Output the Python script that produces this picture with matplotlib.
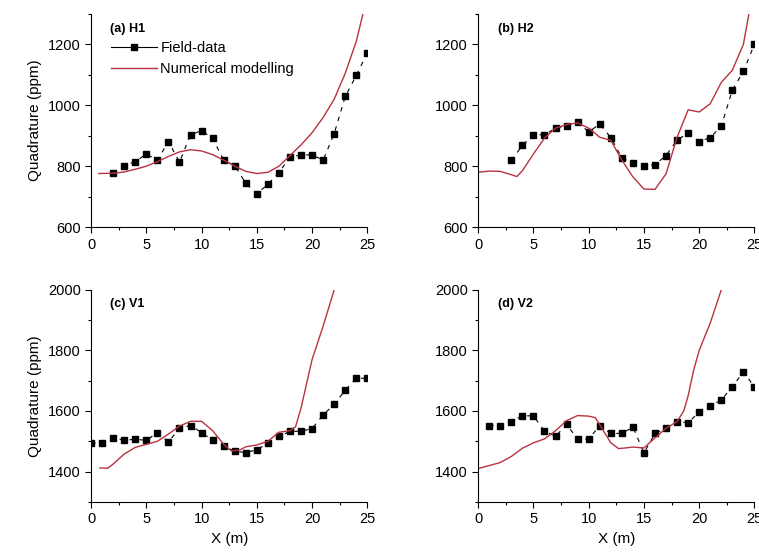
import matplotlib
matplotlib.use('Agg')
import matplotlib.pyplot as plt
from matplotlib.lines import Line2D
from matplotlib.ticker import MultipleLocator

plt.rcParams['font.family'] = ['Liberation Sans', 'DejaVu Sans']

# field data (squares)
xa_field = [2, 3, 4, 5, 6, 7, 8, 9, 10, 11, 12, 13, 14, 15, 16, 17, 18, 19, 20, 21, 22, 23, 24, 25]
ya_field = [779, 802, 815, 840, 820, 881, 813, 903, 917, 891, 820, 802, 744, 709, 741, 779, 830, 837, 837, 820, 907, 1029, 1098, 1173]

xb_field = [3, 4, 5, 6, 7, 8, 9, 10, 11, 12, 13, 14, 15, 16, 17, 18, 19, 20, 21, 22, 23, 24, 25]
yb_field = [819, 868, 903, 903, 925, 933, 944, 913, 938, 894, 827, 810, 802, 805, 835, 886, 908, 881, 894, 931, 1050, 1111, 1200]

xc_field = [0, 1, 2, 3, 4, 5, 6, 7, 8, 9, 10, 11, 12, 13, 14, 15, 16, 17, 18, 19, 20, 21, 22, 23, 24, 25]
yc_field = [1494, 1494, 1512, 1503, 1507, 1503, 1529, 1498, 1543, 1552, 1529, 1503, 1485, 1467, 1463, 1472,
            1494, 1516, 1533, 1533, 1542, 1587, 1622, 1669, 1708, 1708]

xd_field = [1, 2, 3, 4, 5, 6, 7, 8, 9, 10, 11, 12, 13, 14, 15, 16, 17, 18, 19, 20, 21, 22, 23, 24, 25]
yd_field = [1552, 1552, 1565, 1584, 1584, 1534, 1516, 1556, 1507, 1507, 1552, 1526, 1526, 1547, 1462, 1526,
            1543, 1565, 1561, 1597, 1618, 1636, 1680, 1729, 1680]

# numerical modelling (red line)
xa_model = [0.7, 2, 3, 4, 5, 6, 7, 8, 9, 10, 11, 12, 13, 14, 15, 16, 17, 18, 19, 20, 21, 22, 23, 24, 24.6]
ya_model = [776, 777, 781, 790, 800, 815, 832, 847, 854, 850, 838, 820, 800, 783, 776, 780, 800, 835, 870, 910,
            960, 1020, 1105, 1210, 1300]

xb_model = [0, 1, 2, 3, 3.5, 4, 5, 6, 7, 8, 9, 10, 11, 12, 13, 14, 15, 16, 17, 18, 19, 20, 21, 22, 23, 24, 24.5]
yb_model = [780, 784, 783, 772, 766, 785, 840, 892, 925, 937, 942, 925, 895, 885, 820, 765, 725, 724, 775, 895,
            985, 978, 1005, 1075, 1115, 1200, 1300]

xc_model = [0.8, 1.5, 2, 3, 4, 5, 6, 7, 8, 9, 10, 11, 12, 12.7, 13.5, 14, 15, 16, 17, 18, 18.5, 19, 20, 21, 22]
yc_model = [1412, 1411, 1425, 1458, 1480, 1490, 1500, 1524, 1550, 1566, 1566, 1535, 1490, 1468, 1472, 1482,
            1488, 1500, 1530, 1535, 1548, 1610, 1770, 1880, 2000]

xd_model = [0, 1, 2, 3, 4, 5, 6, 7, 8, 9, 10, 10.6, 11, 12, 12.7, 13.3, 14, 15, 16, 17, 18, 18.6, 19, 19.5, 20,
            21, 22]
yd_model = [1410, 1420, 1430, 1450, 1477, 1495, 1508, 1535, 1568, 1585, 1583, 1578, 1555, 1495, 1476, 1478,
            1481, 1478, 1511, 1543, 1565, 1600, 1650, 1735, 1800, 1890, 2000]

panels = [
    ('(a) H1', xa_field, ya_field, xa_model, ya_model, (600, 1300)),
    ('(b) H2', xb_field, yb_field, xb_model, yb_model, (600, 1300)),
    ('(c) V1', xc_field, yc_field, xc_model, yc_model, (1300, 2000)),
    ('(d) V2', xd_field, yd_field, xd_model, yd_model, (1300, 2000)),
]

fig = plt.figure(figsize=(7.59, 5.54), dpi=100)
rects = [
    [0.120, 0.590, 0.364, 0.385],
    [0.630, 0.590, 0.364, 0.385],
    [0.120, 0.094, 0.364, 0.383],
    [0.630, 0.094, 0.364, 0.383],
]
red = '#b8323f'

for i, (title, xf, yf, xm, ym, ylim) in enumerate(panels):
    ax = fig.add_axes(rects[i])
    ax.plot(xf, yf, color='black', linestyle=(0, (4, 5)), linewidth=0.8,
            marker='s', markersize=4.5)
    ax.plot(xm, ym, color=red, linewidth=1.0)
    ax.set_xlim(0, 25)
    ax.set_ylim(*ylim)
    ax.xaxis.set_major_locator(MultipleLocator(5))
    ax.xaxis.set_minor_locator(MultipleLocator(2.5))
    ax.yaxis.set_major_locator(MultipleLocator(200))
    ax.yaxis.set_minor_locator(MultipleLocator(100))
    ax.tick_params(which='major', direction='out', length=4, width=0.8, labelsize=10.5)
    ax.tick_params(which='minor', direction='out', length=2.5, width=0.8)
    ax.spines['top'].set_visible(False)
    ax.spines['right'].set_visible(False)
    ax.patch.set_alpha(0)
    ax.text(0.07, 0.955 if i < 2 else 0.96, title, transform=ax.transAxes, fontsize=9,
            fontweight='bold', va='top', ha='left')
    if i % 2 == 0:
        ax.set_ylabel('Quadrature (ppm)', fontsize=11)
    if i >= 2:
        ax.set_xlabel('X (m)', fontsize=11)
    if i == 0:
        handles = [
            Line2D([], [], color='black', linewidth=0.8, marker='s', markersize=4.5),
            Line2D([], [], color=red, linewidth=1.0),
        ]
        ax.legend(handles, ['Field-data', 'Numerical modelling'], loc='upper left',
                  bbox_to_anchor=(0.05, 0.9), frameon=False, fontsize=10.5,
                  handlelength=3.2, handletextpad=0.2, labelspacing=0.5, borderaxespad=0)

fig.savefig('out.png', dpi=100)
